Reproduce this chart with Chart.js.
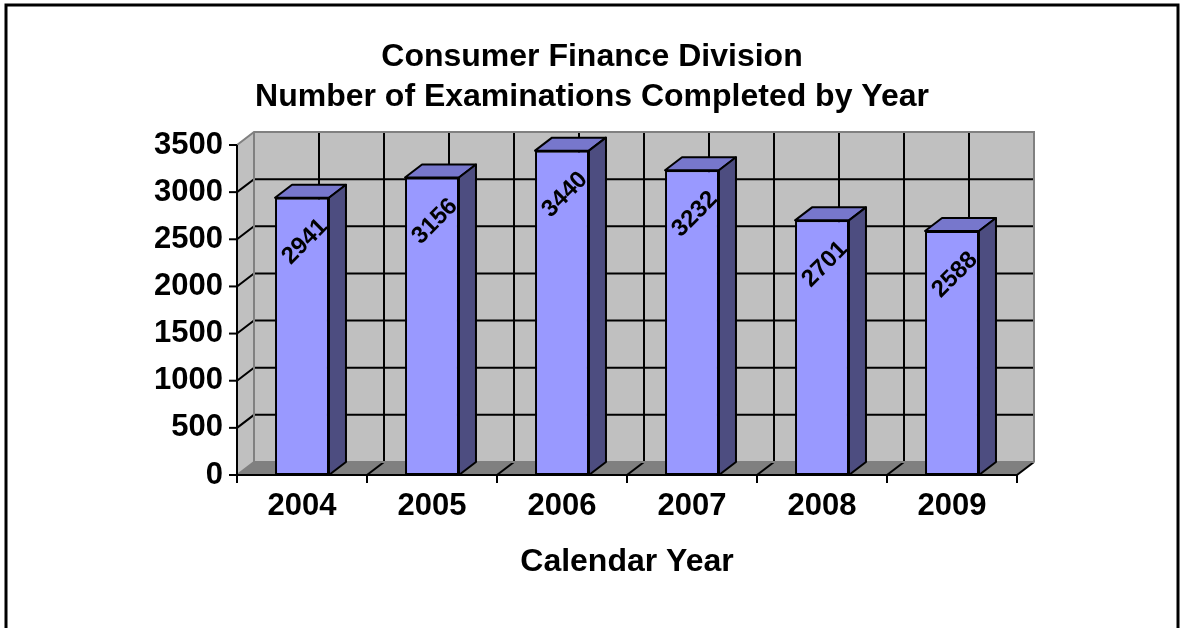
<!DOCTYPE html>
<html>
<head>
<meta charset="utf-8">
<script src="https://cdn.jsdelivr.net/npm/chart.js@4"></script>
<style>
  body { margin: 0; background: #fff; }
  canvas { display: block; }
</style>
</head>
<body>
<canvas id="chart" width="1180" height="628"></canvas>
<script>
const years = ["2004", "2005", "2006", "2007", "2008", "2009"];
const exams = [2941, 3156, 3440, 3232, 2701, 2588];
const titleLines = ["Consumer Finance Division", "Number of Examinations Completed by Year"];
const xTitle = "Calendar Year";
const yMax = 3500;
const yStep = 500;

const FONT = "Arial, 'Liberation Sans', sans-serif";
const depth = { dx: 17, dy: -13 };
const colors = {
  front: "#9999FF",
  top: "#7777CC",
  side: "#4D4D80",
  wall: "#C0C0C0",
  floor: "#808080",
  edge: "#808080"
};

function line(ctx, pts, color, width) {
  ctx.beginPath();
  ctx.moveTo(pts[0][0], pts[0][1]);
  for (let i = 1; i < pts.length; i++) ctx.lineTo(pts[i][0], pts[i][1]);
  ctx.strokeStyle = color;
  ctx.lineWidth = width;
  ctx.stroke();
}

function poly(ctx, pts, fill, stroke, width) {
  ctx.beginPath();
  ctx.moveTo(pts[0][0], pts[0][1]);
  for (let i = 1; i < pts.length; i++) ctx.lineTo(pts[i][0], pts[i][1]);
  ctx.closePath();
  ctx.fillStyle = fill;
  ctx.fill();
  if (stroke) {
    ctx.strokeStyle = stroke;
    ctx.lineWidth = width;
    ctx.lineJoin = "round";
    ctx.stroke();
  }
}

// walls, floor, grid and axes drawn in 3D style
const walls = {
  id: "walls",
  beforeDatasetsDraw(chart) {
    const ctx = chart.ctx;
    const { left, right, top, bottom } = chart.chartArea;
    const xs = chart.scales.x;
    const ys = chart.scales.y;
    const dx = depth.dx, dy = depth.dy;
    ctx.save();

    // back wall
    poly(ctx, [[left + dx, top + dy], [right + dx, top + dy], [right + dx, bottom + dy], [left + dx, bottom + dy]], colors.wall);
    // side wall
    poly(ctx, [[left, top], [left + dx, top + dy], [left + dx, bottom + dy], [left, bottom]], colors.wall);
    // floor
    poly(ctx, [[left, bottom], [left + dx, bottom + dy], [right + dx, bottom + dy], [right, bottom]], colors.floor);

    // horizontal grid lines
    for (let v = yStep; v < yMax; v += yStep) {
      const py = ys.getPixelForValue(v);
      line(ctx, [[left, py], [left + dx, py + dy], [right + dx, py + dy]], "#000", 2);
    }

    // vertical grid lines on back wall, at band edges and centres
    const n = years.length;
    const band = (xs.getPixelForValue(1) - xs.getPixelForValue(0));
    for (let i = 0; i < n; i++) {
      const c = xs.getPixelForValue(i);
      const edges = i === 0 ? [c] : [c - band / 2, c];
      edges.forEach((px) => {
        line(ctx, [[px + dx, top + dy], [px + dx, bottom + dy]], "#000", 2);
      });
    }

    // floor diagonals at band edges
    for (let i = 1; i <= n; i++) {
      const px = xs.getPixelForValue(i - 1) + band / 2;
      line(ctx, [[px, bottom], [px + dx, bottom + dy]], "#000", 2);
    }

    // wall outlines
    line(ctx, [[left, top], [left + dx, top + dy], [right + dx, top + dy], [right + dx, bottom + dy]], colors.edge, 2);
    line(ctx, [[left + dx, top + dy], [left + dx, bottom + dy], [right + dx, bottom + dy]], colors.edge, 2);
    line(ctx, [[left, bottom], [left + dx, bottom + dy]], colors.edge, 2);

    // front axes
    line(ctx, [[left, top], [left, bottom], [right, bottom]], "#000", 2);
    for (let v = 0; v <= yMax; v += yStep) {
      const py = ys.getPixelForValue(v);
      line(ctx, [[left - 8, py], [left, py]], "#000", 2);
    }
    for (let i = 0; i <= n; i++) {
      const px = xs.getPixelForValue(0) - band / 2 + i * band;
      line(ctx, [[px, bottom], [px, bottom + 8]], "#000", 2);
    }
    ctx.restore();
  },

  afterDatasetsDraw(chart) {
    const ctx = chart.ctx;
    const dx = depth.dx, dy = depth.dy;
    const meta = chart.getDatasetMeta(0);
    ctx.save();
    meta.data.forEach((bar, i) => {
      const { x, y, base, width } = bar.getProps(["x", "y", "base", "width"], true);
      const l = x - width / 2, r = x + width / 2;
      poly(ctx, [[l, y], [l + dx, y + dy], [r + dx, y + dy], [r, y]], colors.top, "#000", 2);
      poly(ctx, [[r, y], [r + dx, y + dy], [r + dx, base + dy], [r, base]], colors.side, "#000", 2);

      // value label, rotated
      ctx.save();
      ctx.translate(x + 3, y + 44);
      ctx.rotate(-Math.PI / 4);
      ctx.font = "bold 24px " + FONT;
      ctx.fillStyle = "#000";
      ctx.textAlign = "center";
      ctx.textBaseline = "middle";
      ctx.fillText(String(exams[i]), 0, 0);
      ctx.restore();
    });
    ctx.restore();
  },

  afterDraw(chart) {
    const ctx = chart.ctx;
    ctx.save();
    ctx.strokeStyle = "#000";
    ctx.lineWidth = 3;
    ctx.strokeRect(6, 5, 1172, 700);
    ctx.restore();
  }
};

new Chart(document.getElementById("chart"), {
  type: "bar",
  data: {
    labels: years,
    datasets: [{
      data: exams,
      backgroundColor: colors.front,
      borderColor: "#000",
      borderWidth: 2,
      borderSkipped: false,
      barPercentage: 0.415,
      categoryPercentage: 1
    }]
  },
  options: {
    responsive: false,
    animation: false,
    devicePixelRatio: 1,
    layout: { padding: { left: 4, right: 0, top: 0, bottom: 0 } },
    plugins: {
      legend: { display: false },
      tooltip: { enabled: false },
      title: {
        display: true,
        text: titleLines,
        color: "#000",
        font: { family: FONT, size: 32, weight: "bold", lineHeight: 1.25 },
        padding: { top: 37, bottom: 28 }
      }
    },
    scales: {
      x: {
        grid: { display: false, drawTicks: false },
        border: { display: false },
        ticks: { color: "#000", font: { family: FONT, size: 31, weight: "bold" }, padding: 13, maxRotation: 0 },
        title: {
          display: true,
          text: xTitle,
          color: "#000",
          font: { family: FONT, size: 32, weight: "bold" },
          padding: { top: 0, bottom: 47 }
        },
        afterFit: (s) => { s.height = 153; }
      },
      y: {
        min: 0,
        max: yMax,
        grid: { display: false, drawTicks: false },
        border: { display: false },
        ticks: {
          stepSize: yStep,
          color: "#000",
          font: { family: FONT, size: 31, weight: "bold" },
          padding: 14,
          callback: (v) => String(v)
        },
        afterFit: (s) => { s.width = 233; }
      },
      yRight: {
        position: "right",
        display: true,
        grid: { display: false, drawTicks: false },
        border: { display: false },
        ticks: { display: false },
        afterFit: (s) => { s.width = 163; }
      }
    }
  },
  plugins: [walls]
});
</script>
</body>
</html>
